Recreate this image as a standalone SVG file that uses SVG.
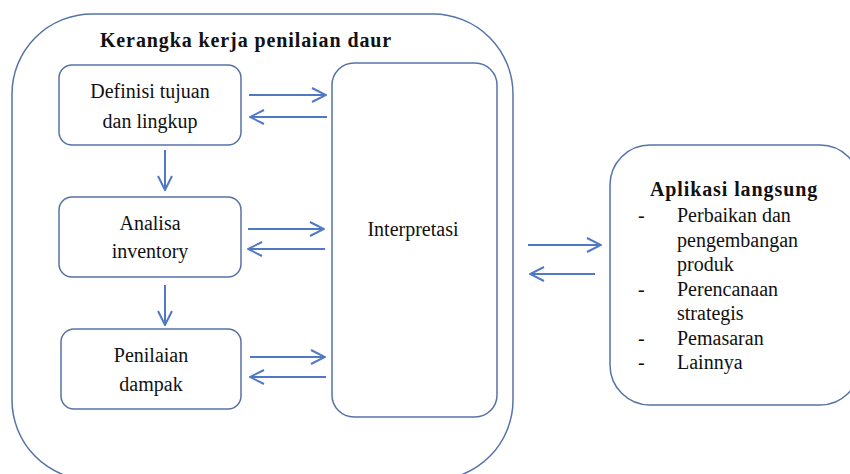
<svg xmlns="http://www.w3.org/2000/svg" width="850" height="474" viewBox="0 0 850 474">
  <style>
    .frame { fill: #ffffff; stroke: #5673a5; stroke-width: 1.5; }
    .box { fill: #ffffff; stroke: #5673a5; stroke-width: 1.5; }
    .conn line { stroke: #4f79c4; stroke-width: 2; fill: none; }
  </style>
  <defs>
    <marker id="head" viewBox="0 0 16 16" refX="15" refY="8" markerWidth="16" markerHeight="16" markerUnits="userSpaceOnUse" orient="auto">
      <polyline points="1,1 15,8 1,15" fill="none" stroke="#4f79c4" stroke-width="2"/>
    </marker>
  </defs>

  <!-- framework container -->
  <g id="framework">
    <rect class="frame" x="12" y="14" width="501" height="466" rx="80" ry="80"/>
    <text x="246" y="47" font-size="20" font-family="Liberation Serif" font-weight="bold" letter-spacing="0.9" text-anchor="middle" fill="#111111">Kerangka kerja penilaian daur</text>
  </g>

  <g id="definisi">
    <rect class="box" x="59" y="65" width="182" height="80" rx="13"/>
    <text x="150" y="98" font-size="20" font-family="Liberation Serif" text-anchor="middle" fill="#111111">Definisi tujuan</text>
    <text x="150" y="128" font-size="20" font-family="Liberation Serif" text-anchor="middle" fill="#111111">dan lingkup</text>
  </g>

  <g id="analisa">
    <rect class="box" x="59" y="197" width="182" height="80" rx="13"/>
    <text x="150" y="230" font-size="20" font-family="Liberation Serif" text-anchor="middle" fill="#111111">Analisa</text>
    <text x="150" y="258" font-size="20" font-family="Liberation Serif" text-anchor="middle" fill="#111111">inventory</text>
  </g>

  <g id="penilaian">
    <rect class="box" x="61" y="329" width="180" height="80" rx="13"/>
    <text x="151" y="362" font-size="20" font-family="Liberation Serif" text-anchor="middle" fill="#111111">Penilaian</text>
    <text x="151" y="391" font-size="20" font-family="Liberation Serif" text-anchor="middle" fill="#111111">dampak</text>
  </g>

  <g id="interpretasi">
    <rect class="box" x="332" y="63" width="165" height="354" rx="22"/>
    <text x="413" y="236" font-size="20" font-family="Liberation Serif" text-anchor="middle" fill="#111111">Interpretasi</text>
  </g>

  <g id="aplikasi">
    <rect class="frame" x="610" y="145" width="250" height="260" rx="40"/>
    <text x="734" y="196" font-size="20" font-family="Liberation Serif" font-weight="bold" letter-spacing="0.9" text-anchor="middle" fill="#111111">Aplikasi langsung</text>
    <text x="638" y="222" font-size="20" font-family="Liberation Serif" fill="#111111">-</text>
    <text x="677" y="222" font-size="20" font-family="Liberation Serif" fill="#111111">Perbaikan dan</text>
    <text x="677" y="246.5" font-size="20" font-family="Liberation Serif" fill="#111111">pengembangan</text>
    <text x="677" y="271" font-size="20" font-family="Liberation Serif" fill="#111111">produk</text>
    <text x="638" y="295.5" font-size="20" font-family="Liberation Serif" fill="#111111">-</text>
    <text x="677" y="295.5" font-size="20" font-family="Liberation Serif" fill="#111111">Perencanaan</text>
    <text x="677" y="320" font-size="20" font-family="Liberation Serif" fill="#111111">strategis</text>
    <text x="638" y="344.5" font-size="20" font-family="Liberation Serif" fill="#111111">-</text>
    <text x="677" y="344.5" font-size="20" font-family="Liberation Serif" fill="#111111">Pemasaran</text>
    <text x="638" y="369" font-size="20" font-family="Liberation Serif" fill="#111111">-</text>
    <text x="677" y="369" font-size="20" font-family="Liberation Serif" fill="#111111">Lainnya</text>
  </g>

  <!-- connectors -->
  <g id="connectors" class="conn">
    <line x1="165" y1="150" x2="165" y2="190" marker-end="url(#head)"/>
    <line x1="165" y1="285" x2="165" y2="325" marker-end="url(#head)"/>

    <line x1="249" y1="95" x2="326" y2="95" marker-end="url(#head)"/>
    <line x1="327" y1="117" x2="250" y2="117" marker-end="url(#head)"/>

    <line x1="248" y1="229" x2="324" y2="229" marker-end="url(#head)"/>
    <line x1="325" y1="249" x2="248" y2="249" marker-end="url(#head)"/>

    <line x1="250" y1="357" x2="325" y2="357" marker-end="url(#head)"/>
    <line x1="326" y1="377" x2="250" y2="377" marker-end="url(#head)"/>

    <line x1="528" y1="245" x2="601" y2="245" marker-end="url(#head)"/>
    <line x1="595" y1="274" x2="530" y2="274" marker-end="url(#head)"/>
  </g>
</svg>
